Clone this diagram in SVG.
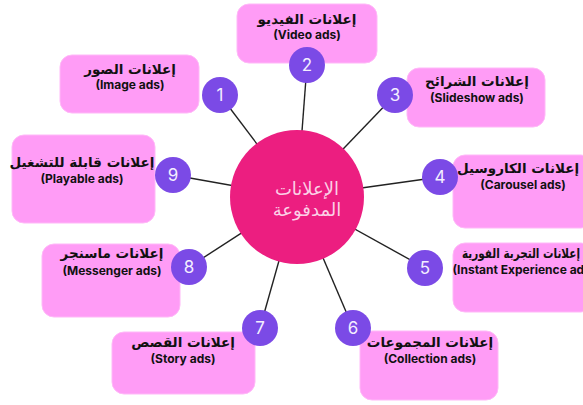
<svg xmlns="http://www.w3.org/2000/svg" width="583" height="405" viewBox="0 0 583 405">
<style>
.box{fill:#ff9cf6;stroke:#ffb8f8;stroke-width:1}
.num{fill:#7b4ae6}
.numt{fill:#f3eeff;font-family:Inter,"DejaVu Sans",sans-serif;font-size:17px;text-anchor:middle;dominant-baseline:central}
.ar{fill:#111;font-family:"DejaVu Sans",sans-serif;font-weight:bold;font-size:13.5px;text-anchor:middle;direction:rtl}
.en{fill:#111;font-family:Inter,"Liberation Sans",sans-serif;font-weight:bold;font-size:12px;text-anchor:middle}
.conn line{stroke:#222;stroke-width:1.4}
</style>
<rect width="583" height="405" fill="#ffffff"/>
<g id="connectors" class="conn">
<line x1="297" y1="197" x2="220" y2="95"/>
<line x1="297" y1="197" x2="307" y2="65"/>
<line x1="297" y1="197" x2="395" y2="95"/>
<line x1="297" y1="197" x2="440" y2="177"/>
<line x1="297" y1="197" x2="425" y2="268"/>
<line x1="297" y1="197" x2="353" y2="328"/>
<line x1="297" y1="197" x2="260" y2="328"/>
<line x1="297" y1="197" x2="189" y2="267"/>
<line x1="297" y1="197" x2="173" y2="175"/>
</g>
<g id="center">
<circle cx="297" cy="197" r="67" fill="#ec1e80"/>
<text x="307" y="195" fill="#fbd0e6" font-family="DejaVu Sans,sans-serif" font-size="18" text-anchor="middle" direction="rtl">الإعلانات</text>
<text x="307" y="216" fill="#fbd0e6" font-family="DejaVu Sans,sans-serif" font-size="18" text-anchor="middle" direction="rtl">المدفوعة</text>
</g>
<g id="node1">
<rect class="box" x="60" y="55" width="139" height="58" rx="12"/>
<text class="ar" x="130" y="74">إعلانات الصور</text>
<text class="en" x="130" y="89">(Image ads)</text>
<circle class="num" cx="220" cy="95" r="18"/>
<text class="numt" x="220" y="95">1</text>
</g>
<g id="node2">
<rect class="box" x="237" y="4" width="140" height="59" rx="12"/>
<text class="ar" x="307" y="24">إعلانات الفيديو</text>
<text class="en" x="307" y="39">(Video ads)</text>
<circle class="num" cx="307" cy="65" r="18"/>
<text class="numt" x="307" y="65">2</text>
</g>
<g id="node3">
<rect class="box" x="407" y="68" width="138" height="59" rx="12"/>
<text class="ar" x="477" y="86">إعلانات الشرائح</text>
<text class="en" x="477" y="102">(Slideshow ads)</text>
<circle class="num" cx="395" cy="95" r="18"/>
<text class="numt" x="395" y="95">3</text>
</g>
<g id="node4">
<rect class="box" x="453" y="155" width="140" height="73" rx="12"/>
<text class="ar" x="518" y="173">إعلانات الكاروسيل</text>
<text class="en" x="523" y="189">(Carousel ads)</text>
<circle class="num" cx="440" cy="177" r="18"/>
<text class="numt" x="440" y="177">4</text>
</g>
<g id="node5">
<rect class="box" x="453" y="243" width="140" height="69" rx="12"/>
<text class="ar" x="521" y="258" textLength="118" lengthAdjust="spacingAndGlyphs">إعلانات التجربة الفورية</text>
<text class="en" x="524" y="274">(Instant Experience ads)</text>
<circle class="num" cx="425" cy="268" r="18"/>
<text class="numt" x="425" y="268">5</text>
</g>
<g id="node6">
<rect class="box" x="360" y="331" width="138" height="69" rx="12"/>
<text class="ar" x="430" y="347">إعلانات المجموعات</text>
<text class="en" x="430" y="363">(Collection ads)</text>
<circle class="num" cx="353" cy="328" r="18"/>
<text class="numt" x="353" y="328">6</text>
</g>
<g id="node7">
<rect class="box" x="112" y="332" width="143" height="62" rx="12"/>
<text class="ar" x="183" y="347">إعلانات القصص</text>
<text class="en" x="183" y="363">(Story ads)</text>
<circle class="num" cx="260" cy="328" r="18"/>
<text class="numt" x="260" y="328">7</text>
</g>
<g id="node8">
<rect class="box" x="42" y="244" width="138" height="73" rx="12"/>
<text class="ar" x="112" y="258">إعلانات ماسنجر</text>
<text class="en" x="112" y="275">(Messenger ads)</text>
<circle class="num" cx="189" cy="267" r="18"/>
<text class="numt" x="189" y="267">8</text>
</g>
<g id="node9">
<rect class="box" x="12" y="135" width="143" height="88" rx="12"/>
<text class="ar" x="82" y="167">إعلانات قابلة للتشغيل</text>
<text class="en" x="82" y="183">(Playable ads)</text>
<circle class="num" cx="173" cy="175" r="18"/>
<text class="numt" x="173" y="175">9</text>
</g>
</svg>
